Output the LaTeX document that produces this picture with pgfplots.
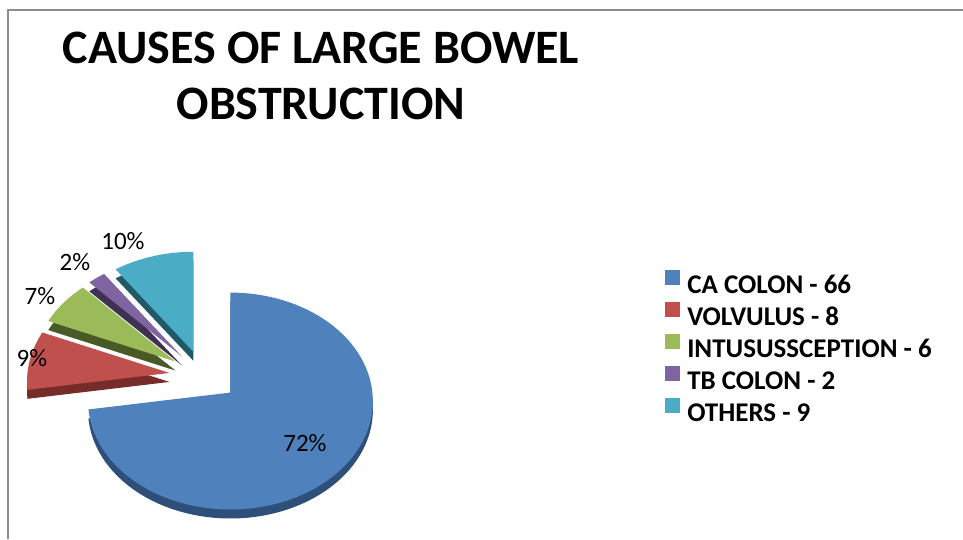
\documentclass[border=0pt]{standalone}
\usepackage{pgfplots}
\pgfplotsset{compat=1.18}
\usepackage{fontspec}
\setmainfont{Carlito}
\definecolor{topA}{HTML}{4F81BD}\definecolor{sideA}{HTML}{2E4F7A}
\definecolor{topB}{HTML}{C0504D}\definecolor{sideB}{HTML}{772C2A}
\definecolor{topC}{HTML}{9BBB59}\definecolor{sideC}{HTML}{4A5A26}
\definecolor{topD}{HTML}{8064A2}\definecolor{sideD}{HTML}{3F3151}
\definecolor{topE}{HTML}{4BACC6}\definecolor{sideE}{HTML}{215968}
\definecolor{framegray}{HTML}{8C8C8C}
\begin{document}
\begin{tikzpicture}
% data: CA COLON, VOLVULUS, INTUSUSSCEPTION, TB COLON, OTHERS
\def\vA{66}\def\vB{8}\def\vC{6}\def\vD{2}\def\vE{9}
\pgfmathsetmacro\tot{\vA+\vB+\vC+\vD+\vE}
\pgfmathsetmacro\sA{90}\pgfmathsetmacro\eA{\sA-360*(\vA/\tot)}
\pgfmathsetmacro\sB{\eA}\pgfmathsetmacro\eB{\sB-360*(\vB/\tot)}
\pgfmathsetmacro\sC{\eB}\pgfmathsetmacro\eC{\sC-360*(\vC/\tot)}
\pgfmathsetmacro\sD{\eC}\pgfmathsetmacro\eD{\sD-360*(\vD/\tot)}
\pgfmathsetmacro\sE{\eD}\pgfmathsetmacro\eE{\sE-360*(\vE/\tot)}
\foreach \k in {A,B,C,D,E}{%
  \pgfmathsetmacro\m{(\csname s\k\endcsname+\csname e\k\endcsname)/2}%
  \pgfmathsetmacro\xx{204+0.245*142*cos(\m)}%
  \pgfmathsetmacro\yy{163+0.245*104*sin(\m)}%
  \pgfmathsetmacro\zz{\yy-9}%
  \global\expandafter\let\csname x\k\endcsname\xx
  \global\expandafter\let\csname y\k\endcsname\yy
  \global\expandafter\let\csname z\k\endcsname\zz
}
\begin{axis}[width=963pt,height=539pt,scale only axis,
  xmin=0,xmax=963,ymin=0,ymax=539,hide axis,
  legend cell align=left,
  legend image code/.code={\fill[#1] (0pt,0pt) rectangle (15pt,15pt);},
  legend style={draw=none,fill=none,inner sep=0pt,
    at={(0.6906,0.499)},anchor=north west,
    font=\bfseries\fontsize{27}{27}\selectfont,
    row sep=8.5pt,
    nodes={inner sep=0pt,text height=17pt,text depth=0pt},
    /tikz/every odd column/.style={column sep=7pt}},
]
\coordinate (bl) at (axis cs:0,0);
\coordinate (tr) at (axis cs:963,539);
\draw[framegray,line width=2pt] (axis cs:8,0) -- (axis cs:8,529) -- (axis cs:963,529);
% side faces
\pgfplotsinvokeforeach{A,B,C,D,E}{
\addplot[draw=none,fill=side#1,forget plot,domain=\csname e#1\endcsname:\csname s#1\endcsname,samples=90,variable=\t]
  ({\csname x#1\endcsname+142*cos(\t)/(1+0.0783*sin(\t))},{\csname z#1\endcsname+107.8*sin(\t)/(1+0.0783*sin(\t))})
  -- (axis cs:\csname x#1\endcsname,\csname z#1\endcsname) -- cycle;
}
% top faces
\pgfplotsinvokeforeach{A,B,C,D,E}{
\addplot[draw=none,fill=top#1,domain=\csname e#1\endcsname:\csname s#1\endcsname,samples=90,variable=\t]
  ({\csname x#1\endcsname+142*cos(\t)/(1+0.0783*sin(\t))},{\csname y#1\endcsname+107.8*sin(\t)/(1+0.0783*sin(\t))})
  -- (axis cs:\csname x#1\endcsname,\csname y#1\endcsname) -- cycle;
}
\legend{CA COLON - 66,VOLVULUS - 8,INTUSUSSCEPTION - 6,TB COLON - 2,OTHERS - 9}
\node[font=\fontsize{25}{25}\selectfont] at (axis cs:305,96) {72\%};
\node[font=\fontsize{25}{25}\selectfont] at (axis cs:32,181) {9\%};
\node[font=\fontsize{25}{25}\selectfont] at (axis cs:40,243) {7\%};
\node[font=\fontsize{25}{25}\selectfont] at (axis cs:75,277) {2\%};
\node[font=\fontsize{25}{25}\selectfont] at (axis cs:123,298) {10\%};
\node[font=\bfseries\fontsize{48}{48}\selectfont,anchor=base] at (axis cs:321,475) {CAUSES OF LARGE BOWEL};
\node[font=\bfseries\fontsize{48}{48}\selectfont,anchor=base] at (axis cs:321,419) {OBSTRUCTION};
\end{axis}
\pgfresetboundingbox
\useasboundingbox (bl) rectangle (tr);
\end{tikzpicture}
\end{document}
